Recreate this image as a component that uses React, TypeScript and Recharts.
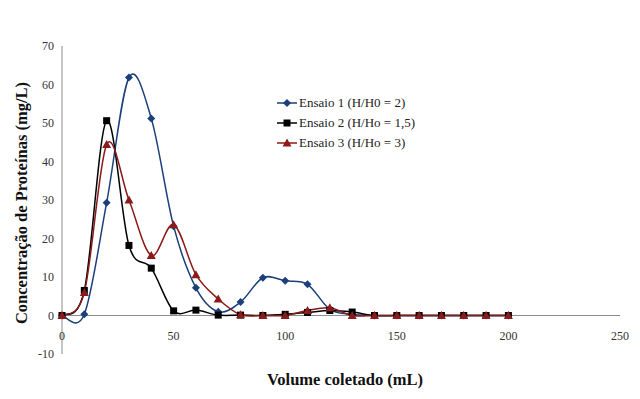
import React from "react";
import { LineChart, Line, XAxis, YAxis, ReferenceLine } from "recharts";

const volumes = [0, 10, 20, 30, 40, 50, 60, 70, 80, 90, 100, 110, 120, 130, 140, 150, 160, 170, 180, 190, 200];
const ensaio1 = [0, 0.3, 29.3, 61.8, 51.2, 23.2, 7.2, 1.0, 3.5, 9.8, 9.0, 8.1, 1.6, 0.3, 0, 0, 0, 0, 0, 0, 0];
const ensaio2 = [0, 6.5, 50.6, 18.2, 12.3, 1.2, 1.4, 0.1, 0.1, 0, 0.3, 0.8, 1.3, 0.9, 0, 0, 0, 0, 0, 0, 0];
const ensaio3 = [0, 6.0, 44.4, 30.0, 15.6, 23.6, 10.6, 4.3, 0.2, 0, 0, 1.3, 2.0, 0, 0, 0, 0, 0, 0, 0, 0];

const xTicks = [0, 50, 100, 150, 200, 250];
const yTicks = [-10, 0, 10, 20, 30, 40, 50, 60, 70];

const seriesNames = ["Ensaio 1 (H/H0 = 2)", "Ensaio 2 (H/Ho = 1,5)", "Ensaio 3 (H/Ho = 3)"];

const BLUE = "#1b3f7a";
const BLACK = "#000000";
const RED = "#8b1a1a";
const AXIS = "#8c8c8c";
const FONT = "Liberation Serif";

const data = volumes.map((v, i) => ({ v, e1: ensaio1[i], e2: ensaio2[i], e3: ensaio3[i] }));

// Excel-like smoothed line (Catmull-Rom style, passes through points, slight overshoot)
function excelCurve(context: any) {
  let pts: number[][] = [];
  return {
    areaStart() {},
    areaEnd() {},
    lineStart() {
      pts = [];
    },
    point(x: number, y: number) {
      pts.push([+x, +y]);
    },
    lineEnd() {
      if (!pts.length) return;
      context.moveTo(pts[0][0], pts[0][1]);
      const t = 1 / 6;
      for (let i = 0; i < pts.length - 1; i++) {
        const p0 = pts[i - 1] || pts[i];
        const p1 = pts[i];
        const p2 = pts[i + 1];
        const p3 = pts[i + 2] || p2;
        context.bezierCurveTo(
          p1[0] + (p2[0] - p0[0]) * t,
          p1[1] + (p2[1] - p0[1]) * t,
          p2[0] - (p3[0] - p1[0]) * t,
          p2[1] - (p3[1] - p1[1]) * t,
          p2[0],
          p2[1]
        );
      }
    },
  };
}

const Diamond = ({ cx, cy, color }: any) =>
  cx == null ? null : (
    <path d={`M${cx},${cy - 4}L${cx + 4},${cy}L${cx},${cy + 4}L${cx - 4},${cy}Z`} fill={color} />
  );
const Square = ({ cx, cy, color }: any) =>
  cx == null ? null : <rect x={cx - 3.5} y={cy - 3.5} width={7} height={7} fill={color} />;
const Triangle = ({ cx, cy, color }: any) =>
  cx == null ? null : (
    <path d={`M${cx},${cy - 4.5}L${cx + 4.5},${cy + 3.5}L${cx - 4.5},${cy + 3.5}Z`} fill={color} />
  );

const XTick = ({ x, y, payload }: any) => (
  <text x={x} y={y - 22} textAnchor="middle" fontFamily={FONT} fontSize={12} fill="#333">
    {payload.value}
  </text>
);

const YTick = ({ x, y, payload }: any) => (
  <text x={x} y={y + 4} textAnchor="end" fontFamily={FONT} fontSize={12} fill="#333">
    {payload.value}
  </text>
);

const YLabel = () => (
  <text
    x={21}
    y={203}
    transform="rotate(-90, 21, 203)"
    textAnchor="middle"
    dominantBaseline="central"
    fontFamily={FONT}
    fontSize={16.5}
    fontWeight="bold"
    fill="#111"
  >
    Concentração de Proteínas (mg/L)
  </text>
);

const legendItems = [
  { name: seriesNames[0], color: BLUE, Marker: Diamond },
  { name: seriesNames[1], color: BLACK, Marker: Square },
  { name: seriesNames[2], color: RED, Marker: Triangle },
];

const LegendBox = () => (
  <div
    style={{
      position: "absolute",
      left: 276,
      top: 93,
      fontFamily: FONT,
      fontSize: 13,
      color: "#222",
      lineHeight: "20px",
    }}
  >
    {legendItems.map((it) => (
      <div key={it.name} style={{ display: "flex", alignItems: "center", height: 20 }}>
        <svg width={22} height={12} style={{ marginRight: 1 }}>
          <line x1={1} y1={6} x2={21} y2={6} stroke={it.color} strokeWidth={1.5} />
          <it.Marker cx={11} cy={6} color={it.color} />
        </svg>
        <span>{it.name}</span>
      </div>
    ))}
  </div>
);

export default function App() {
  return (
    <div style={{ position: "absolute", left: 0, top: 0, width: 640, height: 399, background: "#fff" }}>
      <LineChart width={640} height={399} data={data} margin={{ top: 46, right: 20, bottom: 44, left: 0 }}>
        <XAxis
          dataKey="v"
          type="number"
          domain={[0, 250]}
          ticks={xTicks}
          axisLine={false}
          tickLine={false}
          tick={<XTick />}
          height={1}
          label={{
            value: "Volume coletado (mL)",
            position: "insideBottom",
            offset: -30,
            dx: 4,
            fontFamily: FONT,
            fontSize: 16.5,
            fontWeight: "bold",
            fill: "#111",
          }}
        />
        <YAxis
          type="number"
          domain={[-10, 70]}
          ticks={yTicks}
          width={62}
          axisLine={{ stroke: AXIS }}
          tickLine={false}
          tick={<YTick />}
          label={<YLabel />}
        />
        <ReferenceLine y={0} stroke={AXIS} strokeWidth={1} ifOverflow="visible" />
        <Line
          dataKey="e1"
          name={seriesNames[0]}
          type={excelCurve as any}
          stroke={BLUE}
          strokeWidth={1.5}
          dot={<Diamond color={BLUE} />}
          activeDot={false}
          isAnimationActive={false}
        />
        <Line
          dataKey="e2"
          name={seriesNames[1]}
          type={excelCurve as any}
          stroke={BLACK}
          strokeWidth={1.5}
          dot={<Square color={BLACK} />}
          activeDot={false}
          isAnimationActive={false}
        />
        <Line
          dataKey="e3"
          name={seriesNames[2]}
          type={excelCurve as any}
          stroke={RED}
          strokeWidth={1.5}
          dot={<Triangle color={RED} />}
          activeDot={false}
          isAnimationActive={false}
        />
      </LineChart>
      <LegendBox />
    </div>
  );
}
